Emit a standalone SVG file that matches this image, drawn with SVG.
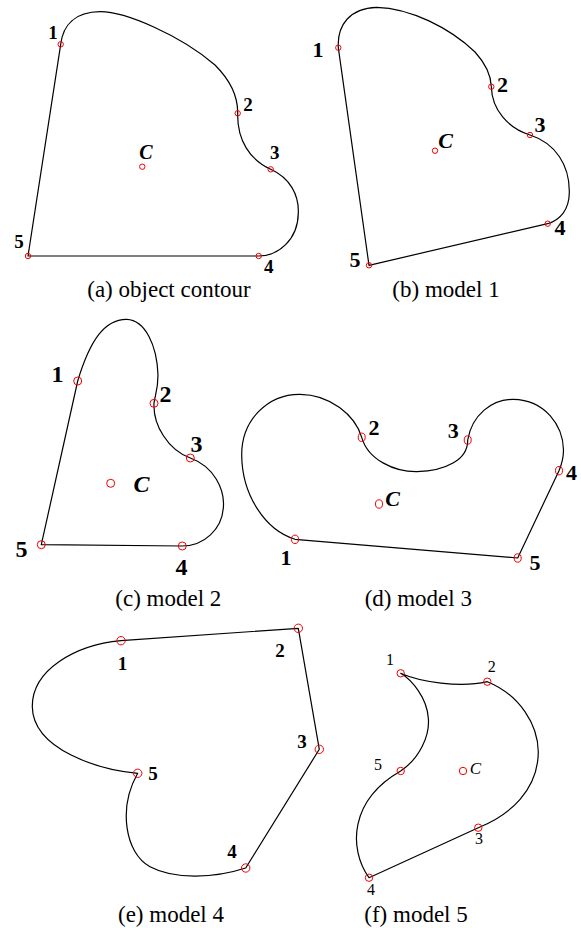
<svg xmlns="http://www.w3.org/2000/svg" width="581" height="928" viewBox="0 0 581 928">
<style>
.c{fill:none;stroke:#000;stroke-width:1.2;stroke-linejoin:round}
.p{fill:none;stroke:#e00;stroke-width:1}
.l{font-family:"Liberation Serif","Times New Roman",serif;font-weight:bold;text-anchor:middle;fill:#000}
.cap{font-family:"Liberation Serif","Times New Roman",serif;font-size:23px;text-anchor:middle;fill:#000}
.i{font-style:italic}
</style>
<rect width="581" height="928" fill="#fff"/>

<g id="panel-a">
<path class="c" d="M28,256 L60.7,44.3 C63,25 75,12 100,11.7 C125,11.5 180,35 215,65 C230,80 238,95 237.7,113.3 C237,140 250,160 270.7,169.3 C290,178 299,195 298.3,213 C298,240 278,256 258.7,256 Z"/>
<g class="p"><circle cx="60.7" cy="44.3" r="2.7"/><circle cx="237.7" cy="113.3" r="2.7"/><circle cx="270.7" cy="169.3" r="2.7"/><circle cx="258.7" cy="256" r="2.7"/><circle cx="28" cy="256" r="2.7"/><circle cx="142.3" cy="166.7" r="2.7"/></g>
<g font-size="19"><text class="l" x="53" y="39.3">1</text><text class="l" x="248" y="110.7">2</text><text class="l" x="274.7" y="159.3">3</text><text class="l" x="268.7" y="272.7">4</text><text class="l" x="19" y="248.3">5</text><text class="l i" x="146" y="159.3" font-size="20">C</text></g>
<text class="cap" x="169" y="297">(a) object contour</text>
</g>

<g id="panel-b">
<path class="c" d="M369,265.3 L338.3,47.7 C337,25 350,8 376.7,7.3 C410,8 450,28 475,52 C485,63 491,75 491.3,86.7 C492,110 508,128 530,135 C555,143 570,165 569.3,193 C569,210 560,220 547.7,223.7 Z"/>
<g class="p"><circle cx="338.3" cy="47.7" r="2.7"/><circle cx="491.3" cy="86.7" r="2.7"/><circle cx="530" cy="135" r="2.7"/><circle cx="547.7" cy="223.7" r="2.7"/><circle cx="369" cy="265.3" r="2.7"/><circle cx="435" cy="150.7" r="2.7"/></g>
<g font-size="22"><text class="l" x="318" y="56.7">1</text><text class="l" x="502.5" y="91.7">2</text><text class="l" x="540" y="131.7">3</text><text class="l" x="560" y="235">4</text><text class="l" x="355" y="266.7">5</text><text class="l i" x="445.5" y="148.3">C</text></g>
<text class="cap" x="446" y="297">(b) model 1</text>
</g>

<g id="panel-c">
<path class="c" d="M41.3,544.7 L77.7,381 C90,340 105,319 126.7,319.3 C145,320 157,345 158,375 C158,390 155,395 154,403.3 C153,425 168,450 190.3,458 C215,467 224,490 223.5,505 C223,530 203,546 182.3,546 Z"/>
<g class="p"><circle cx="77.7" cy="381" r="4"/><circle cx="154" cy="403.3" r="4"/><circle cx="190.3" cy="458" r="4"/><circle cx="182.3" cy="546" r="4"/><circle cx="41.3" cy="544.7" r="4"/><circle cx="110.7" cy="483.3" r="4"/></g>
<g font-size="24"><text class="l" x="57.5" y="382.3">1</text><text class="l" x="165.5" y="401.7">2</text><text class="l" x="196.5" y="451.7">3</text><text class="l" x="181.5" y="575">4</text><text class="l" x="21.5" y="556.7">5</text><text class="l i" x="141.5" y="491.7">C</text></g>
<text class="cap" x="168.3" y="606">(c) model 2</text>
</g>

<g id="panel-d">
<path class="c" d="M295,539.3 C265,530 242,495 241.7,455 C241.5,420 268,394 300,394.3 C330,394.5 355,415 361.7,437.3 C368,460 395,472 417,471.7 C445,471 468,460 467.7,440 C472,415 492,399 513.3,399.3 C545,400 563,425 563.5,450 C563.5,460 561,466 559,470.7 L517.7,558 Z"/>
<g class="p"><ellipse cx="295" cy="539.3" rx="3.5" ry="4.2"/><ellipse cx="361.7" cy="437.3" rx="3.5" ry="4.2"/><ellipse cx="467.7" cy="440" rx="3.5" ry="4.2"/><ellipse cx="559" cy="470.7" rx="3.5" ry="4.2"/><ellipse cx="517.7" cy="558" rx="3.5" ry="4.2"/><ellipse cx="379" cy="504" rx="3.5" ry="4.2"/></g>
<g font-size="22"><text class="l" x="286" y="565">1</text><text class="l" x="374" y="435">2</text><text class="l" x="453.3" y="438.3">3</text><text class="l" x="571.5" y="480">4</text><text class="l" x="535" y="570">5</text><text class="l i" x="392.5" y="506">C</text></g>
<text class="cap" x="418.3" y="606">(d) model 3</text>
</g>

<g id="panel-e">
<path class="c" d="M121,640.7 L298.3,628.3 L319.3,749.3 L245.7,868 C215,878 175,880 150,866.7 C125,853 118,808 137.7,773.3 C100,770 33,750 32.3,706.7 C32,670 75,645 121,640.7 Z"/>
<g class="p"><circle cx="121" cy="640.7" r="4.2"/><circle cx="298.3" cy="628.3" r="4.2"/><circle cx="319.3" cy="749.3" r="4.2"/><circle cx="245.7" cy="868" r="4.2"/><circle cx="137.7" cy="773.3" r="4.2"/></g>
<g font-size="19"><text class="l" x="122.5" y="670">1</text><text class="l" x="280" y="656.7">2</text><text class="l" x="302" y="748.3">3</text><text class="l" x="232" y="858.3">4</text><text class="l" x="153" y="780">5</text></g>
<text class="cap" x="171" y="922">(e) model 4</text>
</g>

<g id="panel-f">
<path class="c" d="M400.7,673.3 C420,682 460,688 487.3,681.7 C520,695 538,725 538.3,752 C538,790 510,815 478.3,827.7 L369,877.7 C348,848 350,800 400.7,771 C420,758 430,735 428.3,718 C427,698 412,680 400.7,673.3 Z"/>
<g class="p"><circle cx="400.7" cy="673.3" r="3.7"/><circle cx="487.3" cy="681.7" r="3.7"/><circle cx="478.3" cy="827.7" r="3.7"/><circle cx="369" cy="877.7" r="3.7"/><circle cx="400.7" cy="771" r="3.7"/><circle cx="463" cy="771" r="3.7"/></g>
<g font-size="16" font-weight="normal"><text class="l" style="font-weight:normal" x="390" y="665">1</text><text class="l" style="font-weight:normal" x="491.7" y="671.7">2</text><text class="l" style="font-weight:normal" x="479" y="844">3</text><text class="l" style="font-weight:normal" x="371" y="895">4</text><text class="l" style="font-weight:normal" x="378" y="770">5</text><text class="l i" style="font-weight:normal" x="475.5" y="774.3" font-size="17">C</text></g>
<text class="cap" x="416" y="922">(f) model 5</text>
</g>
</svg>
